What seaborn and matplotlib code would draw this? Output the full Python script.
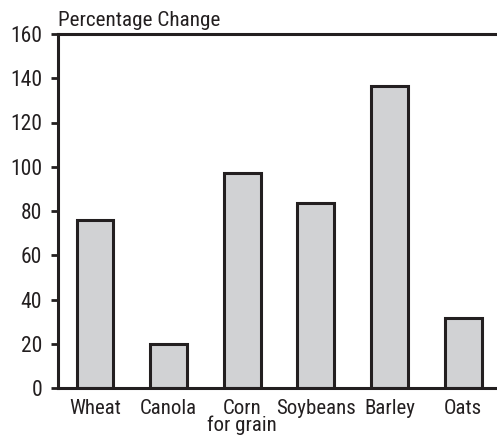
import matplotlib
matplotlib.use("Agg")
import matplotlib.pyplot as plt
import seaborn as sns
import pandas as pd

categories = ["Wheat", "Canola", "Corn\nfor grain", "Soybeans", "Barley", "Oats"]
values = [76, 20, 97, 83.5, 136.5, 31.5]
yticks = [0, 20, 40, 60, 80, 100, 120, 140, 160]

sns.set_theme(style="white")
plt.rcParams['font.family'] = ["Roboto Condensed", 'DejaVu Sans']

df = pd.DataFrame({"cat": categories, "val": values})

fig = plt.figure(figsize=(4.97, 4.41), dpi=100)
ax = fig.add_axes([58/497, 53/441, 1 - 58/497, (388-34)/441])
sns.barplot(data=df, x="cat", y="val", color="#d1d2d4", width=0.5,
            edgecolor="#231f20", linewidth=2.2, saturation=1, ax=ax)
for p in ax.patches:
    p.set_facecolor("#d1d2d4")

ax.set_xlim(-0.503, 5.46)
ax.set_ylim(0, 160)
ax.set_yticks(yticks)
ax.set_yticklabels([str(t) for t in yticks], fontsize=15.5, color="#231f20")
ax.set_xticks(range(len(categories)))
ax.set_xticklabels(categories, fontsize=15, color="#231f20", linespacing=0.82)
ax.set_xlabel("")
ax.set_ylabel("")
ax.tick_params(axis="y", length=5, width=2, color="#231f20", left=True, pad=6.5)
ax.tick_params(axis="x", length=0, pad=8)
for s in ["left", "top", "bottom"]:
    ax.spines[s].set_visible(True)
    ax.spines[s].set_linewidth(2.2)
    ax.spines[s].set_color("#231f20")
ax.spines["right"].set_visible(False)
ax.set_facecolor("white")

fig.text(58/497, 1 - 26/441, "Percentage Change", fontsize=15.2, color="#231f20",
         ha="left", va="baseline")

fig.savefig("out.png", dpi=100, facecolor="white")
